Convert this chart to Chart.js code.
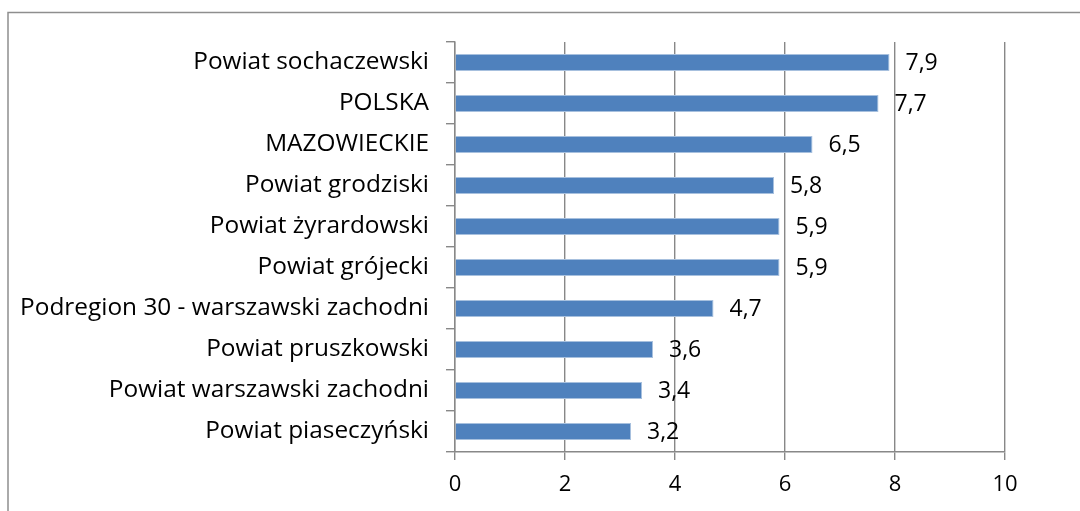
<!DOCTYPE html>
<html>
<head>
<meta charset="utf-8">
<script src="https://cdn.jsdelivr.net/npm/chart.js@4/dist/chart.umd.min.js"></script>
<style>
  html, body { margin: 0; padding: 0; background: #fff; }
  #wrap { width: 1080px; height: 511px; }
</style>
</head>
<body>
<div id="wrap"><canvas id="chart" width="1080" height="511"></canvas></div>
<script>
const categories = [
  "Powiat sochaczewski",
  "POLSKA",
  "MAZOWIECKIE",
  "Powiat grodziski",
  "Powiat żyrardowski",
  "Powiat grójecki",
  "Podregion 30 - warszawski zachodni",
  "Powiat pruszkowski",
  "Powiat warszawski zachodni",
  "Powiat piaseczyński",
];
const values = [7.9, 7.7, 6.5, 5.8, 5.9, 5.9, 4.7, 3.6, 3.4, 3.2];
const xTicks = [0, 2, 4, 6, 8, 10];

const FONT = "'Open Sans', Lato, sans-serif";
const GRID = "#888888";

// outer frame of the chart (runs off the right/bottom edge)
const framePlugin = {
  id: "frame",
  beforeDraw(chart) {
    const ctx = chart.ctx;
    ctx.save();
    ctx.strokeStyle = "#8e8e8e";
    ctx.lineWidth = 1.5;
    ctx.strokeRect(8, 12.5, 1090, 520);
    ctx.restore();
  },
};

// value labels to the right of each bar, decimal comma
const valueLabels = {
  id: "valueLabels",
  afterDatasetsDraw(chart) {
    const ctx = chart.ctx;
    const meta = chart.getDatasetMeta(0);
    ctx.save();
    ctx.font = "23px " + FONT;
    ctx.fillStyle = "#000";
    ctx.textAlign = "left";
    ctx.textBaseline = "middle";
    meta.data.forEach((bar, i) => {
      const txt = values[i].toFixed(1).replace(".", ",");
      ctx.fillText(txt, bar.x + 16, bar.y + 1);
    });
    ctx.restore();
  },
};

new Chart(document.getElementById("chart"), {
  type: "bar",
  data: {
    labels: categories,
    datasets: [
      {
        data: values,
        backgroundColor: "#4f81bd",
        borderColor: "#a7c0de",
        borderWidth: 1,
        barPercentage: 0.41,
        categoryPercentage: 1,
      },
    ],
  },
  options: {
    indexAxis: "y",
    responsive: false,
    animation: false,
    layout: { padding: { left: 0, top: 42, right: 75, bottom: 0 } },
    plugins: {
      legend: { display: false },
      tooltip: { enabled: false },
    },
    scales: {
      x: {
        min: 0,
        max: 10,
        afterBuildTicks(scale) {
          scale.ticks = xTicks.map((v) => ({ value: v }));
        },
        afterFit(scale) {
          scale.height = 59;
        },
        grid: {
          color: GRID,
          lineWidth: 1.4,
          drawTicks: true,
          tickLength: 8,
        },
        border: { display: true, color: GRID, width: 1.4 },
        ticks: {
          color: "#000",
          font: { family: FONT, size: 22 },
          padding: 12,
        },
      },
      y: {
        afterFit(scale) {
          scale.width = 455;
        },
        grid: {
          display: true,
          drawOnChartArea: false,
          drawTicks: true,
          tickLength: 9,
          offset: true,
          color: GRID,
          lineWidth: 1.4,
        },
        border: { display: true, color: GRID, width: 1.4 },
        ticks: {
          color: "#000",
          font: { family: FONT, size: 24.4 },
          padding: 17,
          autoSkip: false,
        },
      },
    },
  },
  plugins: [framePlugin, valueLabels],
});
</script>
</body>
</html>
